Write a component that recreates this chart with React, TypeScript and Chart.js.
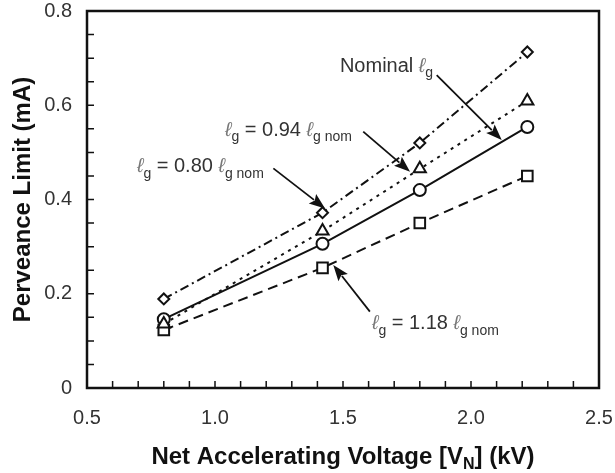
import React, { useEffect, useRef } from "react";
import { Chart, registerables } from "chart.js";

Chart.register(...registerables);

// ---- data ----
const voltages = [0.8, 1.42, 1.8, 2.22];
const gap080 = [0.189, 0.372, 0.52, 0.713];
const gap094 = [0.136, 0.333, 0.465, 0.609];
const gapNominal = [0.146, 0.306, 0.42, 0.554];
const gap118 = [0.123, 0.255, 0.35, 0.45];

const xMin = 0.5;
const xMax = 2.5;
const xStep = 0.5;
const xMinorStep = 0.1;
const yMin = 0;
const yMax = 0.8;
const yStep = 0.2;
const yMinorStep = 0.05;

const FONT = '"Liberation Sans", Arial, Helvetica, sans-serif';

type Part = { text: string; sub?: boolean; ell?: boolean };

const L = (t: string): Part => ({ text: t });
const ELL: Part = { text: "\u2113", ell: true };
const SUB = (t: string): Part => ({ text: t, sub: true });

// annotation anchors in data coordinates
const annotations = [
  {
    parts: [L("Nominal "), ELL, SUB("g")],
    at: [1.488, 0.671],
    from: [1.866, 0.664],
    to: [2.12, 0.526],
  },
  {
    parts: [ELL, SUB("g"), L(" = 0.94 "), ELL, SUB("g nom")],
    at: [1.039, 0.535],
    from: [1.579, 0.544],
    to: [1.762, 0.459],
  },
  {
    parts: [ELL, SUB("g"), L(" = 0.80 "), ELL, SUB("g nom")],
    at: [0.695, 0.458],
    from: [1.228, 0.466],
    to: [1.43, 0.381],
  },
  {
    parts: [ELL, SUB("g"), L(" = 1.18 "), ELL, SUB("g nom")],
    at: [1.613, 0.125],
    from: [1.605, 0.162],
    to: [1.462, 0.261],
  },
];

function drawRich(ctx: CanvasRenderingContext2D, x: number, y: number, parts: Part[], size: number, color: string) {
  let cx = x;
  for (const p of parts) {
    const fs = p.sub ? Math.round(size * 0.7) : size;
    ctx.font = `${p.ell ? "italic " : ""}${fs}px ${FONT}`;
    ctx.fillStyle = p.ell ? "#777" : color;
    ctx.fillText(p.text, cx, y + (p.sub ? size * 0.28 : 0));
    cx += ctx.measureText(p.text).width;
  }
}

function drawArrow(ctx: CanvasRenderingContext2D, x0: number, y0: number, x1: number, y1: number) {
  const ang = Math.atan2(y1 - y0, x1 - x0);
  const hl = 16;
  const hw = 6;
  ctx.beginPath();
  ctx.moveTo(x0, y0);
  ctx.lineTo(x1 - Math.cos(ang) * (hl - 2), y1 - Math.sin(ang) * (hl - 2));
  ctx.lineWidth = 1.8;
  ctx.strokeStyle = "#111";
  ctx.stroke();
  ctx.beginPath();
  ctx.moveTo(x1, y1);
  ctx.lineTo(x1 - Math.cos(ang) * hl + Math.sin(ang) * hw, y1 - Math.sin(ang) * hl - Math.cos(ang) * hw);
  ctx.lineTo(x1 - Math.cos(ang) * (hl - 3), y1 - Math.sin(ang) * (hl - 3));
  ctx.lineTo(x1 - Math.cos(ang) * hl - Math.sin(ang) * hw, y1 - Math.sin(ang) * hl + Math.cos(ang) * hw);
  ctx.closePath();
  ctx.fillStyle = "#111";
  ctx.fill();
}

const decorPlugin = {
  id: "decor",
  beforeDatasetsDraw(chart: any) {
    const { ctx, chartArea: a, scales } = chart;
    const xs = scales.x;
    const ys = scales.y;
    ctx.save();
    ctx.strokeStyle = "#111";
    ctx.lineWidth = 1.5;
    ctx.beginPath();
    const nx = Math.round((xMax - xMin) / xMinorStep);
    for (let i = 1; i < nx; i++) {
      const px = xs.getPixelForValue(xMin + i * xMinorStep);
      ctx.moveTo(px, a.bottom);
      ctx.lineTo(px, a.bottom - 7);
    }
    const ny = Math.round((yMax - yMin) / yMinorStep);
    for (let i = 1; i < ny; i++) {
      const py = ys.getPixelForValue(yMin + i * yMinorStep);
      ctx.moveTo(a.left, py);
      ctx.lineTo(a.left + 7, py);
    }
    ctx.stroke();
    ctx.lineWidth = 2.5;
    ctx.strokeRect(a.left, a.top, a.right - a.left, a.bottom - a.top);
    ctx.restore();
  },
  afterDraw(chart: any) {
    const { ctx, chartArea: a, scales } = chart;
    const xs = scales.x;
    const ys = scales.y;
    ctx.save();
    ctx.textBaseline = "alphabetic";
    ctx.textAlign = "left";
    for (const an of annotations) {
      drawRich(ctx, xs.getPixelForValue(an.at[0]), ys.getPixelForValue(an.at[1]), an.parts, 20, "#333");
      drawArrow(
        ctx,
        xs.getPixelForValue(an.from[0]),
        ys.getPixelForValue(an.from[1]),
        xs.getPixelForValue(an.to[0]),
        ys.getPixelForValue(an.to[1])
      );
    }
    // x title with subscript
    const size = 24;
    const xParts = [
      { t: "Net Accelerating Voltage [V", s: false },
      { t: "N", s: true },
      { t: "] (kV)", s: false },
    ];
    let total = 0;
    for (const p of xParts) {
      ctx.font = `bold ${p.s ? 16 : size}px ${FONT}`;
      total += ctx.measureText(p.t).width;
    }
    let cx = (a.left + a.right) / 2 - total / 2;
    const baseY = 464;
    ctx.fillStyle = "#111";
    for (const p of xParts) {
      ctx.font = `bold ${p.s ? 16 : size}px ${FONT}`;
      ctx.fillText(p.t, cx, baseY + (p.s ? 5 : 0));
      cx += ctx.measureText(p.t).width;
    }
    // y title
    ctx.translate(30, (a.top + a.bottom) / 2);
    ctx.rotate(-Math.PI / 2);
    ctx.textAlign = "center";
    ctx.font = `bold ${size}px ${FONT}`;
    ctx.fillText("Perveance Limit (mA)", 0, 0);
    ctx.restore();
  },
};

function mk(label: string, values: number[], style: string, radius: number, dash: number[]) {
  return {
    label,
    data: voltages.map((v, i) => ({ x: v, y: values[i] })),
    borderColor: "#111",
    borderWidth: 2,
    borderDash: dash,
    pointStyle: style,
    pointRadius: radius,
    pointBorderWidth: 2,
    pointBorderColor: "#111",
    pointBackgroundColor: "#fff",
    fill: false,
    tension: 0,
  };
}

const zeroPad = (s: any) => {
  s.paddingLeft = 0;
  s.paddingRight = 0;
  s.paddingTop = 0;
  s.paddingBottom = 0;
};

export default function App() {
  const ref = useRef<HTMLCanvasElement>(null);
  useEffect(() => {
    if (!ref.current) return;
    const chart = new Chart(ref.current, {
      type: "line",
      data: {
        datasets: [
          mk("0.80", gap080, "rectRot", 5.5, [9, 4, 2, 4]),
          mk("0.94", gap094, "triangle", 7, [3, 5]),
          mk("Nominal", gapNominal, "circle", 6, []),
          mk("1.18", gap118, "rect", 7.5, [10, 6]),
        ] as any,
      },
      options: {
        animation: false,
        responsive: true,
        maintainAspectRatio: false,
        layout: { padding: { top: 11, right: 16, left: 0, bottom: 0 } },
        plugins: { legend: { display: false }, tooltip: { enabled: false } },
        scales: {
          x: {
            type: "linear",
            min: xMin,
            max: xMax,
            grid: { display: false, drawTicks: false },
            border: { display: false },
            ticks: {
              stepSize: xStep,
              padding: 20,
              color: "#333",
              font: { family: FONT, size: 20, lineHeight: 1 },
              callback: (v: any) => Number(v).toFixed(1),
            },
            afterFit: (s: any) => {
              s.height = 85;
              zeroPad(s);
            },
          },
          y: {
            type: "linear",
            min: yMin,
            max: yMax,
            grid: { display: false, drawTicks: false },
            border: { display: false },
            ticks: {
              stepSize: yStep,
              padding: 15,
              color: "#333",
              font: { family: FONT, size: 20, lineHeight: 1 },
              callback: (v: any) => (Number(v) === 0 ? "0" : Number(v).toFixed(1)),
            },
            afterFit: (s: any) => {
              s.width = 87;
              zeroPad(s);
            },
          },
        },
      },
      plugins: [decorPlugin],
    });
    return () => chart.destroy();
  }, []);
  return (
    <div style={{ position: "absolute", left: 0, top: 0, width: 615, height: 473, background: "#fff" }}>
      <canvas ref={ref} />
    </div>
  );
}
